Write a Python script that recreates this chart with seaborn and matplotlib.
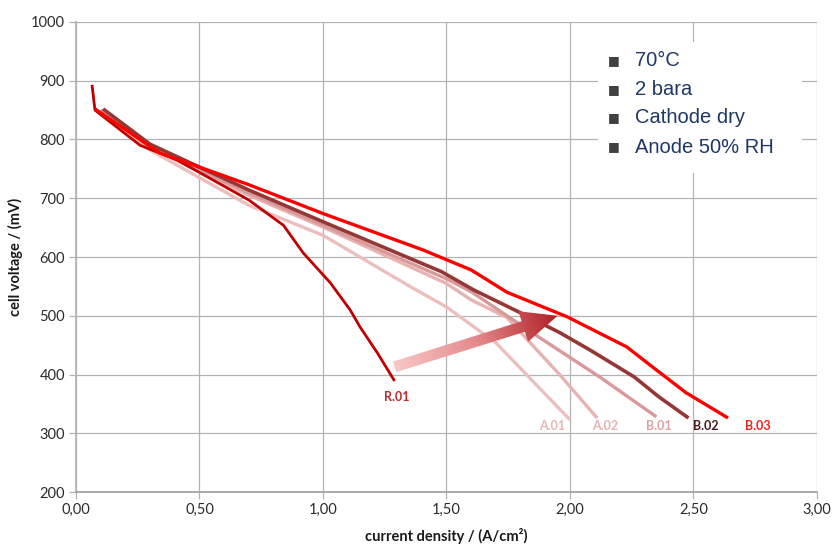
import numpy as np
import pandas as pd
import matplotlib
matplotlib.use("Agg")
import matplotlib.pyplot as plt
import seaborn as sns
from matplotlib.patches import Polygon, Rectangle
from matplotlib.colors import LinearSegmentedColormap
from matplotlib.ticker import FuncFormatter

# ---------------- data ----------------
a01_x = [0.12, 0.30, 0.70, 1.00, 1.36, 1.50, 1.70, 2.00]
a01_y = [845, 782, 688, 637, 548, 515, 454, 323]

a02_x = [0.10, 0.30, 0.70, 1.00, 1.50, 1.60, 1.745, 1.96, 2.11]
a02_y = [850, 786, 705, 651, 555, 527, 497, 399, 326]

b01_x = [0.10, 0.30, 0.70, 1.00, 1.50, 1.60, 1.745, 1.88, 1.96, 2.12, 2.35]
b01_y = [850, 787, 709, 654, 563, 541, 500, 462, 440, 396, 328]

b02_x = [0.11, 0.30, 0.70, 1.00, 1.48, 1.61, 1.80, 1.96, 2.08, 2.26, 2.36, 2.48]
b02_y = [852, 792, 714, 660, 575, 544, 505, 471, 442, 396, 362, 326]

r01_x = [0.065, 0.077, 0.26, 0.41, 0.70, 0.84, 0.92, 1.03, 1.11, 1.15, 1.22, 1.29]
r01_y = [893, 850, 790, 765, 697, 654, 607, 556, 510, 481, 437, 389]

b03_x = [0.077, 0.34, 0.70, 1.00, 1.405, 1.60, 1.745, 1.99, 2.07, 2.23, 2.34, 2.47, 2.64]
b03_y = [852, 777, 723, 674, 612, 578, 540, 498, 481, 447, 411, 369, 326]

series_names = ["A.01", "A.02", "B.01", "B.02", "R.01", "B.03"]
series_x = [a01_x, a02_x, b01_x, b02_x, r01_x, b03_x]
series_y = [a01_y, a02_y, b01_y, b02_y, r01_y, b03_y]

conditions = ["70°C", "2 bara", "Cathode dry", "Anode 50% RH"]

x_ticks = [0.0, 0.5, 1.0, 1.5, 2.0, 2.5, 3.0]
y_ticks = [200, 300, 400, 500, 600, 700, 800, 900, 1000]

# arrow (trend) endpoints in data units
arrow_start = (1.29, 413)
arrow_end = (1.95, 500)

# ---------------- styles ----------------
line_colors = {"A.01": "#ecbfbe", "A.02": "#e6b3b2", "B.01": "#d9999a",
               "B.02": "#953735", "R.01": "#c00000", "B.03": "#ff0000"}
label_colors = {"A.01": "#e8b4b4", "A.02": "#e6b0b0", "B.01": "#dca2a2",
                "B.02": "#4a1a1a", "R.01": "#c0282d", "B.03": "#ff1a1a"}
line_widths = {"A.01": 2.4, "A.02": 2.4, "B.01": 2.4, "B.02": 2.6,
               "R.01": 2.0, "B.03": 2.4}
label_offsets = {"A.01": (-18, -6), "A.02": (8, -8), "B.01": (2, -9),
                 "B.02": (17, -8), "B.03": (30, -8), "R.01": (2, -16)}

frames = []
for name, xs, ys in zip(series_names, series_x, series_y):
    frames.append(pd.DataFrame({"current": xs, "voltage": ys, "sample": name}))
df = pd.concat(frames, ignore_index=True)

sns.set_theme(style="white")
plt.rcParams["font.family"] = ["Lato", "DejaVu Sans"]

fig = plt.figure(figsize=(8.32, 5.47), dpi=100)
ax = fig.add_axes([0.0913, 0.1005, 0.8906, 0.8593])
ax.set_xlim(0, 3.0)
ax.set_ylim(200, 1000)

for name in series_names:
    sub = df[df["sample"] == name]
    sns.lineplot(data=sub, x="current", y="voltage", ax=ax, sort=False,
                 estimator=None, color=line_colors[name],
                 linewidth=line_widths[name], zorder=3,
                 solid_joinstyle="round", solid_capstyle="butt")
    ax.annotate(name, xy=(sub["current"].iloc[-1], sub["voltage"].iloc[-1]),
                xytext=label_offsets[name], textcoords="offset pixels",
                ha="center", va="center", fontsize=9, fontweight="bold",
                color=label_colors[name], zorder=5)

# grid & axes
ax.set_xticks(x_ticks)
ax.set_yticks(y_ticks)
ax.grid(True, color="#b3b3b3", linewidth=0.9)
ax.set_axisbelow(True)
for s in ["top", "right"]:
    ax.spines[s].set_visible(False)
ax.spines["left"].set_color("#b3b3b3")
ax.spines["bottom"].set_color("#a0a0a0")
ax.tick_params(axis="both", which="both", length=5, width=0.9,
               color="#b3b3b3", labelsize=10.5, labelcolor="#2b2b2b",
               direction="out", left=True, bottom=True, pad=3)
ax.xaxis.set_major_formatter(FuncFormatter(lambda v, p: f"{v:.2f}".replace(".", ",")))
ax.yaxis.set_major_formatter(FuncFormatter(lambda v, p: f"{int(v)}"))
ax.set_xlabel("current density / (A/cm²)", fontsize=10.5, fontweight="bold",
              color="#1a1a1a", labelpad=8)
ax.set_ylabel("cell voltage / (mV)", fontsize=10.5, fontweight="bold",
              color="#1a1a1a", labelpad=6)

# gradient arrow built in display space
p0 = ax.transData.transform(arrow_start)
p1 = ax.transData.transform(arrow_end)
d = (p1 - p0) / np.linalg.norm(p1 - p0)
nrm = np.array([-d[1], d[0]])
L = np.linalg.norm(p1 - p0)
shaft_w, head_w, head_l = 11, 32, 36
base = p1 - d * head_l
pts_disp = np.array([
    p0 + nrm * shaft_w / 2,
    base + nrm * shaft_w / 2,
    base + nrm * head_w / 2,
    p1,
    base - nrm * head_w / 2,
    base - nrm * shaft_w / 2,
    p0 - nrm * shaft_w / 2,
])
pts_data = ax.transData.inverted().transform(pts_disp)
poly = Polygon(pts_data, closed=True, facecolor="none", edgecolor="none", zorder=4)
ax.add_patch(poly)
xmin, ymin = pts_data.min(axis=0)
xmax, ymax = pts_data.max(axis=0)
gx = np.linspace(xmin, xmax, 200)
gy = np.linspace(ymin, ymax, 200)
GX, GY = np.meshgrid(gx, gy)
disp = ax.transData.transform(np.column_stack([GX.ravel(), GY.ravel()]))
t = ((disp - p0) @ d / L).reshape(GX.shape)
t = np.clip(t, 0, 1)
cmap = LinearSegmentedColormap.from_list("arr", ["#f9c6c6", "#e58a8c", "#b01f26"])
im = ax.imshow(t, extent=[xmin, xmax, ymin, ymax], origin="lower",
               cmap=cmap, vmin=0, vmax=1, aspect="auto", zorder=4,
               interpolation="bilinear")
im.set_clip_path(poly)
ax.set_xlim(0, 3.0)
ax.set_ylim(200, 1000)

# conditions box
ax.add_patch(Rectangle((0.704, 0.679), 0.276, 0.278, transform=ax.transAxes,
                       facecolor="white", edgecolor="none", zorder=2))
row_y = [0.919, 0.857, 0.796, 0.734]
for txt, yy in zip(conditions, row_y):
    ax.text(0.726, yy, "■", transform=ax.transAxes, fontsize=9, color="#404040",
            ha="center", va="center", family="DejaVu Sans", zorder=6)
    ax.text(0.754, yy, txt, transform=ax.transAxes, fontsize=14.5, color="#1f3864",
            ha="left", va="center", family="Liberation Sans", zorder=6)

fig.savefig("out.png", dpi=100)
